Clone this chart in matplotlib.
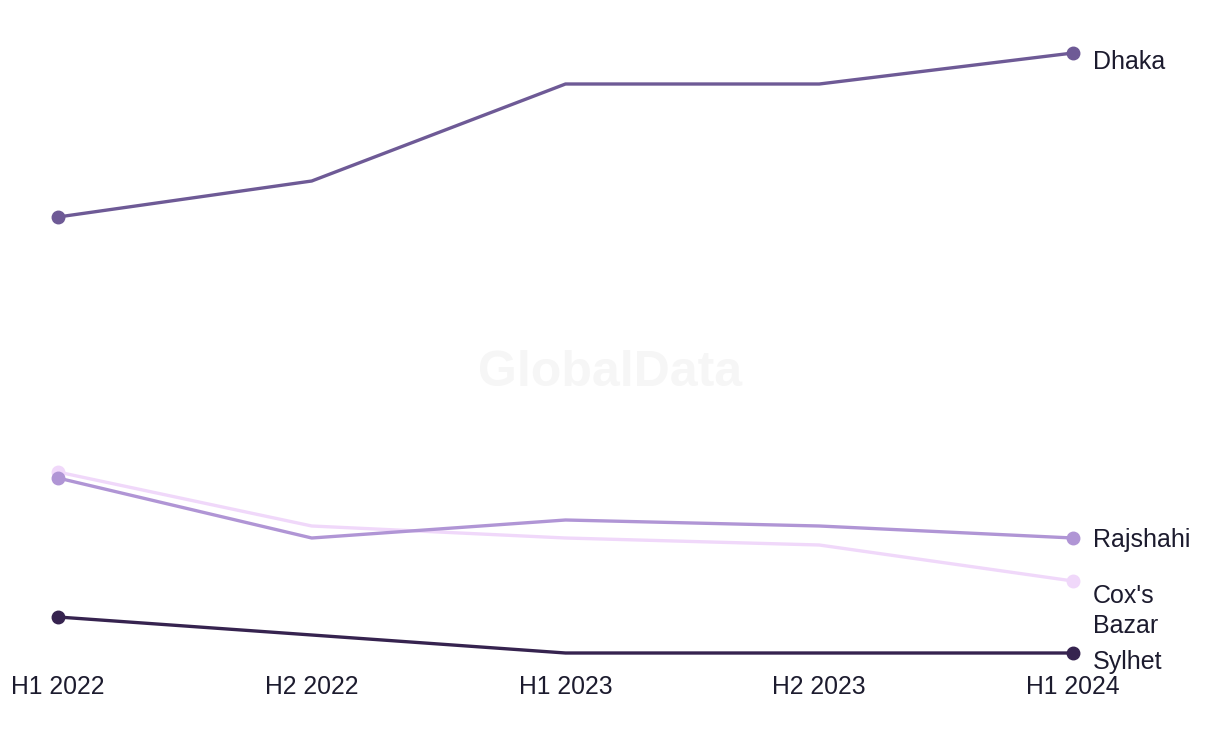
import matplotlib
matplotlib.use("Agg")
import matplotlib.pyplot as plt

plt.rcParams['font.family'] = ['Liberation Sans', 'DejaVu Sans']

periods = ["H1 2022", "H2 2022", "H1 2023", "H2 2023", "H1 2024"]
dhaka = [48.3, 51.9, 61.6, 61.6, 64.7]
rajshahi = [22.2, 16.2, 18.0, 17.4, 16.2]
coxs_bazar = [22.8, 17.4, 16.2, 15.5, 11.9]
sylhet = [8.3, 6.5, 4.7, 4.7, 4.7]

# name, values, colour, label shift (px, downwards)
series = [
    ("Cox's\nBazar", coxs_bazar, "#f0d8fa", 30),
    ("Rajshahi", rajshahi, "#b095d5", 2),
    ("Sylhet", sylhet, "#36234f", 9),
    ("Dhaka", dhaka, "#6e5a96", 9),
]
text_color = "#1c1b2e"

W, H = 1220, 744
fig = plt.figure(figsize=(W / 100, H / 100), dpi=100, facecolor="white")
# axis bottom at pixel 665 -> value 3.5, top pixel 0 -> value 70
ax = fig.add_axes([58 / W, (H - 665) / H, (1073 - 58) / W, 665 / H])
ax.set_xlim(0, len(periods) - 1)
ax.set_ylim(3.5, 70)

fig.text(0.5, (H - 373) / H, "GlobalData", ha="center", va="center",
         fontsize=36, fontweight="bold", color="#f6f6f6", zorder=0)

x = list(range(len(periods)))
for name, vals, col, dy in series:
    ax.plot(x, vals, color=col, lw=2.4, solid_capstyle="round", zorder=3)
    ax.plot([x[0], x[-1]], [vals[0], vals[-1]], "o", color=col, ms=9,
            zorder=4, clip_on=False)
    ax.annotate(name, xy=(x[-1], vals[-1]), xytext=(14.5, -dy * 0.72),
                textcoords="offset points", ha="left", va="center",
                fontsize=18, color=text_color, linespacing=1.35,
                annotation_clip=False)

ax.set_xticks(x)
ax.set_xticklabels(periods, fontsize=17.8, color=text_color)
ax.tick_params(axis="x", length=0, pad=7)
ax.set_yticks([])
for s in ax.spines.values():
    s.set_visible(False)
ax.patch.set_alpha(0)

fig.savefig("out.png", dpi=100, facecolor="white")
